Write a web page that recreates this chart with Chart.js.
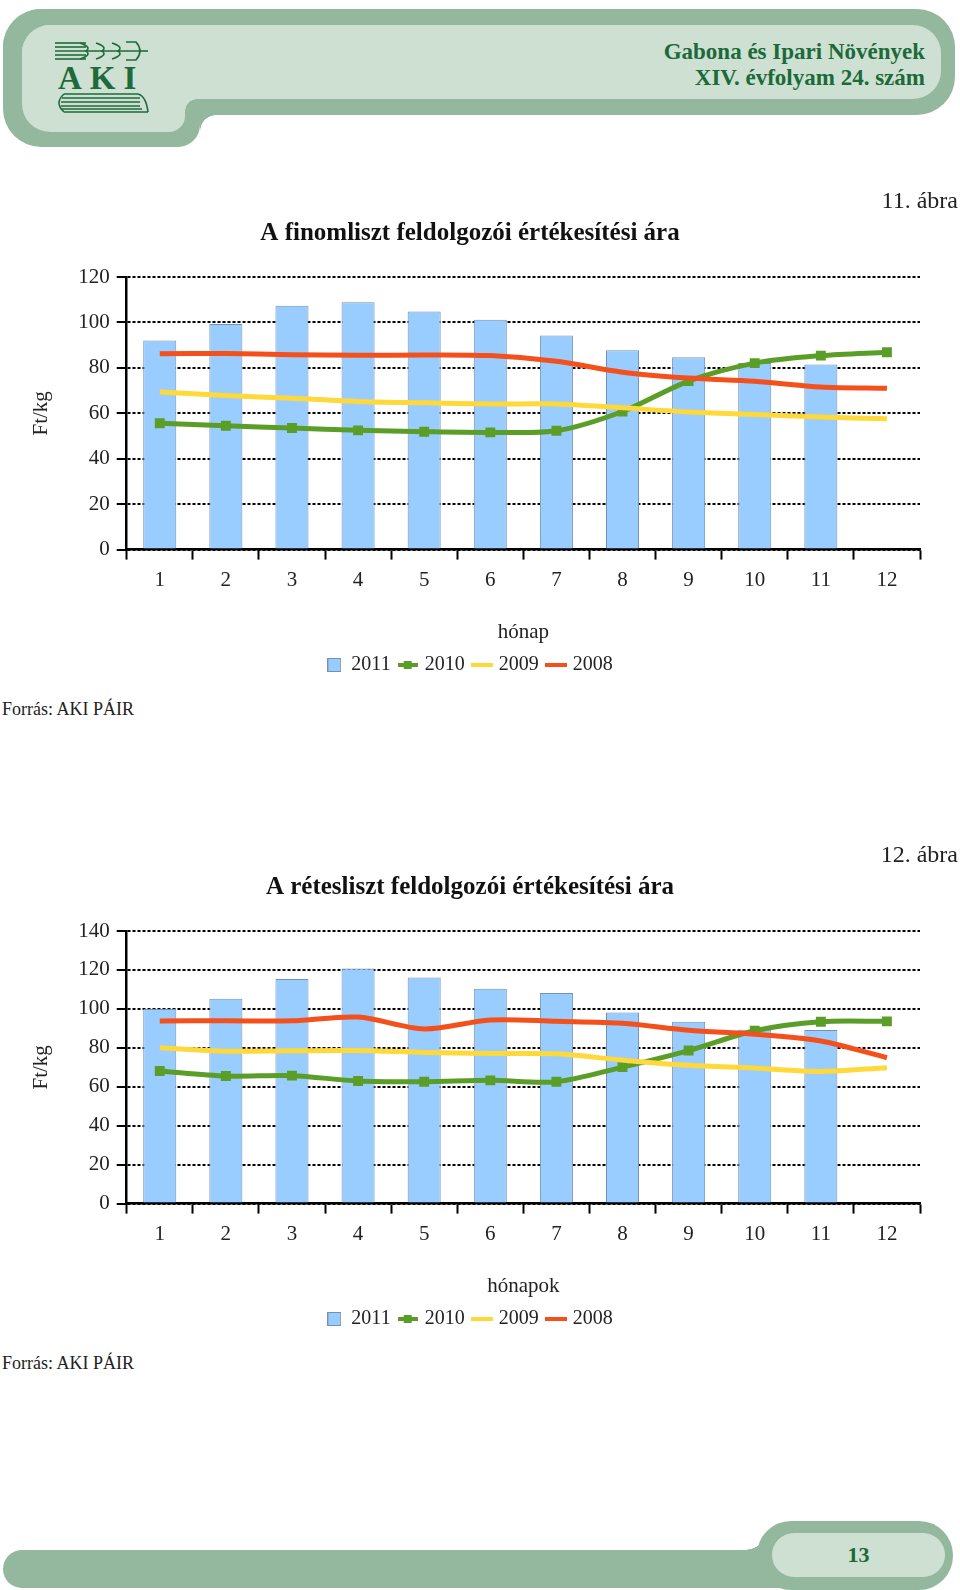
<!DOCTYPE html>
<html lang="hu">
<head>
<meta charset="utf-8">
<title>Gabona és Ipari Növények – XIV. évfolyam 24. szám</title>
<script src="https://cdn.jsdelivr.net/npm/chart.js@4"></script>
<style>
  html, body { margin: 0; padding: 0; background: #fff; }
  body { width: 960px; height: 1590px; position: relative; overflow: hidden;
         font-family: "Liberation Serif", "DejaVu Serif", serif; color: #222; }
  .abs { position: absolute; }
  .dark { background: #94b89d; }
  .light { background: #cde0d2; }
  .head { right: 35px; font-size: 23px; font-weight: bold; color: #1b6a3a; line-height: 26px; text-align: right; }
  .fig { right: 2px; font-size: 24px; line-height: 26px; }
  .src { left: 2px; font-size: 18px; line-height: 20px; }
  canvas { position: absolute; left: 0; }
</style>
</head>
<body>

<!-- fejléc -->
<div class="abs dark" style="left:3px;top:9px;width:952px;height:106px;border-radius:38px;"></div>
<div class="abs dark" style="left:3px;top:9px;width:197px;height:138px;border-radius:38px 0 22px 38px;"></div>
<div class="abs" style="left:200px;top:115px;width:16px;height:16px;background:radial-gradient(circle at 100% 100%, transparent 15.5px, #94b89d 16px);"></div>
<div class="abs light" style="left:22px;top:25px;width:919px;height:74px;border-radius:28px;"></div>
<div class="abs light" style="left:22px;top:25px;width:163px;height:107px;border-radius:28px 0 16px 28px;"></div>
<div class="abs" style="left:185px;top:99px;width:12px;height:12px;background:radial-gradient(circle at 100% 100%, transparent 11.5px, #cde0d2 12px);"></div>

<svg class="abs" style="left:50px;top:36px" width="104" height="80" viewBox="0 0 104 80">
  <g stroke="#1d6b3b" stroke-width="1.6" fill="none">
    <line x1="5" y1="7" x2="36" y2="7"/>
    <line x1="5" y1="11" x2="36" y2="11"/>
    <line x1="5" y1="15" x2="92" y2="15"/>
    <line x1="5" y1="19" x2="36" y2="19"/>
    <line x1="5" y1="23" x2="36" y2="23"/>
    <path d="M30 7 Q42 11 36 15 Q42 19 30 23"/>
    <path d="M46 7 Q58 11 52 15 Q58 19 46 23"/>
    <path d="M62 7 Q74 11 68 15 Q74 19 62 23"/>
    <path d="M76 6 L86 6 Q94 15 86 24 L76 24"/>
    <line x1="92" y1="15" x2="98" y2="15"/>
  </g>
  <text x="8" y="53" font-family="Liberation Serif" font-size="33" font-weight="bold" fill="#1d6b3b" letter-spacing="8">AKI</text>
  <g stroke="#1d6b3b" stroke-width="1.6" fill="none">
    <path d="M14 58 L88 58 M14 76 L98 76 M14 58 Q4 67 14 76"/>
    <line x1="12" y1="62" x2="90" y2="62"/>
    <line x1="11" y1="66" x2="90" y2="66"/>
    <line x1="11" y1="70" x2="90" y2="70"/>
    <line x1="12" y1="73" x2="92" y2="73"/>
    <path d="M88 58 Q96 60 98 76"/>
  </g>
</svg>

<div class="abs head" style="top:39px;">Gabona és Ipari Növények</div>
<div class="abs head" style="top:65px;">XIV. évfolyam 24. szám</div>

<!-- 11. ábra -->
<canvas id="finom" width="960" height="505" style="top:180px"></canvas>
<div class="abs fig" style="top:187px;">11. ábra</div>
<div class="abs src" style="top:699px;">Forrás: AKI PÁIR</div>

<!-- 12. ábra -->
<canvas id="retes" width="960" height="505" style="top:834px"></canvas>
<div class="abs fig" style="top:841px;">12. ábra</div>
<div class="abs src" style="top:1353px;">Forrás: AKI PÁIR</div>

<!-- lábléc -->
<div class="abs dark" style="left:3px;top:1550px;width:800px;height:38px;border-radius:19px 0 0 19px;"></div>
<div class="abs" style="left:744px;top:1536px;width:20px;height:14px;background:radial-gradient(20px 14px at 0 0, transparent 97%, #94b89d 100%);"></div>
<div class="abs dark" style="left:757px;top:1521px;width:196px;height:69px;border-radius:34px;"></div>
<div class="abs light" style="left:772px;top:1533px;width:173px;height:44px;border-radius:22px;"></div>
<div class="abs" style="left:772px;top:1533px;width:173px;height:44px;line-height:44px;text-align:center;font-size:22px;font-weight:bold;color:#1b6a3a;">13</div>

<script>
// adatok (Ft/kg), havonta
const months = ['1', '2', '3', '4', '5', '6', '7', '8', '9', '10', '11', '12'];
const years = ['2011', '2010', '2009', '2008'];

// 11. ábra – finomliszt
const finomTicks = [0, 20, 40, 60, 80, 100, 120];
const finom2011 = [92, 99.3, 107.3, 108.9, 104.8, 101.2, 94.3, 87.8, 84.7, 82.1, 81.5, null];
const finom2010 = [55.6, 54.5, 53.5, 52.5, 51.9, 51.6, 52.3, 60.8, 74.2, 82.1, 85.4, 86.9];
const finom2009 = [69.4, 67.8, 66.6, 65.2, 64.6, 64.1, 64.1, 62.4, 60.6, 59.5, 58.4, 57.6];
const finom2008 = [86.2, 86.3, 85.8, 85.5, 85.7, 85.4, 82.9, 78.1, 75.5, 74.1, 71.6, 71.0];

// 12. ábra – rétesliszt
const retesTicks = [0, 20, 40, 60, 80, 100, 120, 140];
const retes2011 = [100, 105.2, 115.4, 120.7, 116.1, 110.4, 108.1, 98.2, 93.4, 89.3, 89.2, null];
const retes2010 = [68.1, 65.5, 65.7, 63.0, 62.6, 63.3, 62.6, 70.1, 78.6, 88.8, 93.4, 93.6];
const retes2009 = [80.0, 78.3, 78.5, 78.6, 77.6, 77.1, 76.9, 73.7, 71.0, 69.6, 67.9, 69.8];
const retes2008 = [93.8, 93.9, 93.9, 95.8, 89.7, 94.3, 93.6, 92.6, 89.0, 87.0, 83.5, 74.9];

const FONT = '"Liberation Serif", serif';
const BLUE = '#99ccff';
const BLUE_EDGE = '#7391b4';
const GREEN = '#5a9e28';
const YELLOW = '#ffd83a';
const RED = '#f4501c';

// jelmagyarázat ikonok (kis canvasok)
const icon = (w, h, draw) => {
  const c = document.createElement('canvas');
  c.width = w; c.height = h;
  draw(c.getContext('2d'));
  return c;
};
const legendIcons = [
  icon(14, 14, (g) => { g.fillStyle = BLUE; g.fillRect(0, 0, 14, 14); g.strokeStyle = BLUE_EDGE; g.strokeRect(0.5, 0.5, 13, 13); }),
  icon(20, 10, (g) => { g.fillStyle = GREEN; g.fillRect(0, 3, 20, 4); g.fillRect(6, 1, 8, 8); }),
  icon(22, 4, (g) => { g.fillStyle = YELLOW; g.fillRect(0, 0, 22, 4); }),
  icon(22, 4, (g) => { g.fillStyle = RED; g.fillRect(0, 0, 22, 4); }),
];

const buildChart = (id, title, xTitle, ticks, d2011, d2010, d2009, d2008) => {
  const lineBase = { type: 'line', borderWidth: 5, tension: 0.3, pointRadius: 0, pointHoverRadius: 0 };
  return new Chart(document.getElementById(id), {
    type: 'bar',
    data: {
      labels: months,
      datasets: [
        { type: 'bar', label: years[0], data: d2011, backgroundColor: BLUE, borderColor: BLUE_EDGE,
          borderWidth: 1, barPercentage: 1, categoryPercentage: 0.5, order: 4 },
        { ...lineBase, label: years[1], data: d2010, borderColor: GREEN, backgroundColor: GREEN,
          pointStyle: 'rect', pointRadius: 7, pointBorderWidth: 0, order: 3 },
        { ...lineBase, label: years[2], data: d2009, borderColor: YELLOW, order: 2 },
        { ...lineBase, label: years[3], data: d2008, borderColor: RED, order: 1 },
      ],
    },
    options: {
      responsive: false,
      animation: false,
      layout: { padding: { left: 20, right: 40, top: 0, bottom: 0 } },
      plugins: {
        title: {
          display: true, text: title, color: '#111',
          font: { family: FONT, size: 25, weight: 'bold' },
          padding: { top: 39, bottom: 28 },
        },
        legend: {
          position: 'bottom',
          labels: {
            usePointStyle: true, pointStyleWidth: 14, padding: 10, color: '#222',
            font: { family: FONT, size: 20 },
            generateLabels: (chart) => chart.data.datasets.map((ds, i) => ({
              text: ds.label, pointStyle: legendIcons[i], fillStyle: 'transparent',
              strokeStyle: 'transparent', lineWidth: 0, hidden: false, datasetIndex: i, fontColor: '#222',
            })),
          },
        },
        tooltip: { enabled: false },
      },
      scales: {
        x: {
          offset: true,
          grid: { display: true, drawOnChartArea: false, drawTicks: true, offset: true,
                  tickLength: 10, tickColor: '#000', tickWidth: 2 },
          border: { display: true, color: '#000', width: 2.5 },
          ticks: { color: '#222', font: { family: FONT, size: 21 }, padding: 8, maxRotation: 0 },
          title: { display: true, text: xTitle, color: '#222', font: { family: FONT, size: 21 },
                   padding: { top: 19, bottom: 0 } },
        },
        y: {
          min: ticks[0],
          max: ticks[ticks.length - 1],
          grid: { color: '#000', lineWidth: 2, tickLength: 10, tickColor: '#000', tickWidth: 2, tickBorderDash: [] },
          border: { display: true, color: '#000', width: 2.5, dash: [3, 2] },
          ticks: { stepSize: ticks[1] - ticks[0], color: '#222', font: { family: FONT, size: 21 }, padding: 7 },
          title: { display: true, text: 'Ft/kg', color: '#222', font: { family: FONT, size: 21 },
                   padding: { top: 9, bottom: 17 } },
        },
      },
    },
  });
};

buildChart('finom', 'A finomliszt feldolgozói értékesítési ára', 'hónap', finomTicks,
  finom2011, finom2010, finom2009, finom2008);
buildChart('retes', 'A rétesliszt feldolgozói értékesítési ára', 'hónapok', retesTicks,
  retes2011, retes2010, retes2009, retes2008);
</script>
</body>
</html>
